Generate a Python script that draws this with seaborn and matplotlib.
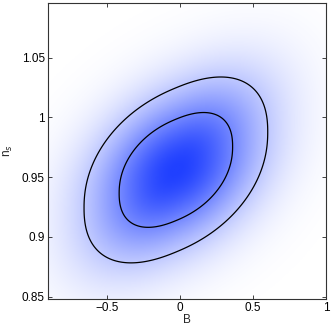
import numpy as np
import matplotlib
matplotlib.use("Agg")
import matplotlib.pyplot as plt
import seaborn as sns

# Posterior summary (B vs n_s)
mean_B = -0.03
mean_ns = 0.956
sd_B = 0.258
sd_ns = 0.031
rho = 0.42
shape_p = 2.25   # >2 gives the slightly boxy contours

# Confidence levels for the two contours
conf_levels = [0.95, 0.68]

x_limits = (-0.91, 1.0)
y_limits = (0.848, 1.096)
x_ticks = [-0.5, 0, 0.5, 1]
x_ticklabels = ["\u22120.5", "0", "0.5", "1"]
y_ticks = [0.85, 0.9, 0.95, 1, 1.05]
y_ticklabels = ["0.85", "0.9", "0.95", "1", "1.05"]

sns.set_style("ticks")
plt.rcParams["font.family"] = ["Liberation Sans", "DejaVu Sans"]

# Density on a grid
b = np.linspace(x_limits[0], x_limits[1], 400)
ns = np.linspace(y_limits[0], y_limits[1], 400)
BB, NN = np.meshgrid(b, ns)
u = (BB - mean_B) / sd_B
zn = (NN - mean_ns) / sd_ns
v = (zn - rho * u) / np.sqrt(1 - rho**2)
q = (np.abs(u)**shape_p + np.abs(v)**shape_p) ** (2 / shape_p)
dens = np.exp(-0.5 * q)

# density thresholds that enclose the requested mass
flat = np.sort(dens.ravel())[::-1]
cum = np.cumsum(flat) / flat.sum()
levels = sorted(flat[np.searchsorted(cum, c)] for c in conf_levels)

cmap = sns.blend_palette(["white", "#2040ff"], as_cmap=True)

fig = plt.figure(figsize=(3.33, 3.30), dpi=100)
ax = fig.add_axes([0.143, 0.094, 0.836, 0.898])
ax.imshow(dens ** 0.42, origin="lower", extent=[*x_limits, *y_limits],
          aspect="auto", cmap=cmap, vmin=0, vmax=1, interpolation="bilinear")
ax.contour(BB, NN, dens, levels=levels, colors="black", linewidths=0.9)

ax.set_xlim(x_limits)
ax.set_ylim(y_limits)
ax.set_xticks(x_ticks)
ax.set_xticklabels(x_ticklabels)
ax.set_yticks(y_ticks)
ax.set_yticklabels(y_ticklabels)
ax.tick_params(direction="in", length=3, width=0.6, labelsize=8.5,
               top=True, right=True, pad=2, colors="#222222", labelcolor="black")
for s in ax.spines.values():
    s.set_color("#333333")
    s.set_linewidth(0.8)
ax.set_xlabel("B", fontsize=8.5, labelpad=0)
ax.set_ylabel("n$_s$", fontsize=8.5, labelpad=5)

fig.savefig("out.png", dpi=100)
